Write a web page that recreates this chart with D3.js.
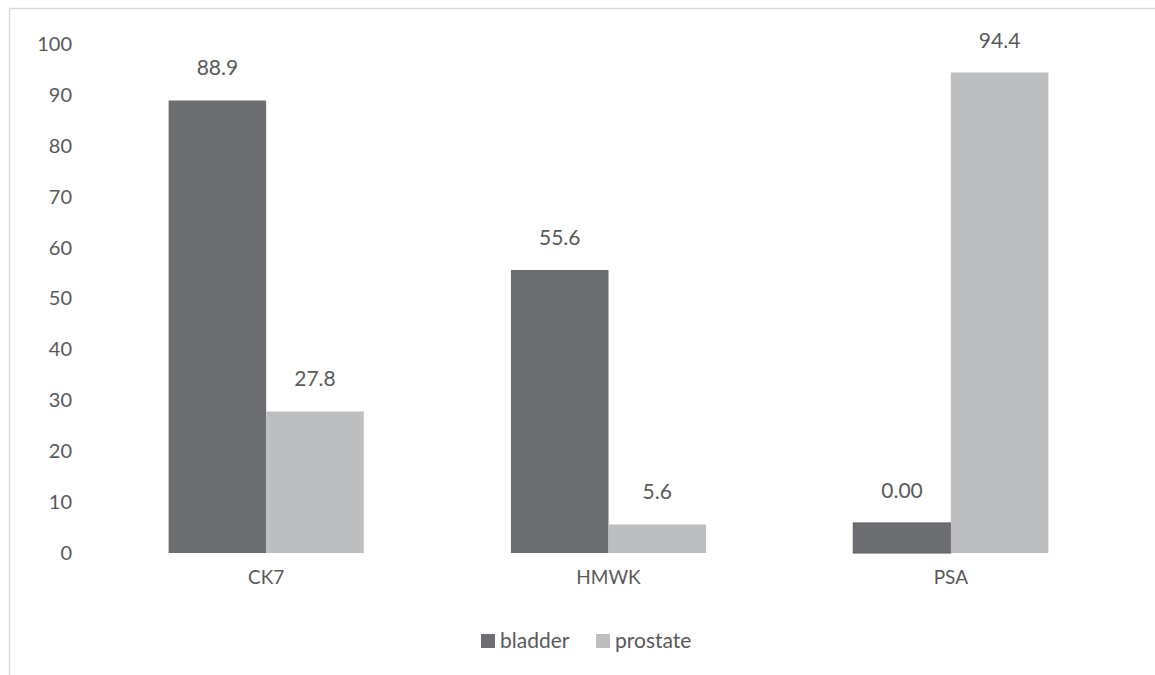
<!DOCTYPE html>
<html>
<head>
<meta charset="utf-8">
<script src="https://cdn.jsdelivr.net/npm/d3@7"></script>
<style>
  body { margin: 0; background: #fff; }
  text { font-family: Lato, "Open Sans", sans-serif; fill: #595959; }
</style>
</head>
<body>
<div class="chart"></div>
<script>
const categories = ['CK7', 'HMWK', 'PSA'];
const seriesNames = ['bladder', 'prostate'];
const bladder = [88.9, 55.6, 5.9];
const prostate = [27.8, 5.6, 94.4];
const bladderLabels = ['88.9', '55.6', '0.00'];
const prostateLabels = ['27.8', '5.6', '94.4'];
const yTicks = [0, 10, 20, 30, 40, 50, 60, 70, 80, 90, 100];

const colors = { bladder: '#6d6e71', prostate: '#bcbec0' };

const fullWidth = 1155;
const fullHeight = 675;
const margin = { top: 44, right: 33, bottom: 122, left: 95 };
const width = fullWidth - margin.left - margin.right;
const height = fullHeight - margin.top - margin.bottom;

const svg = d3.select('.chart')
    .append('svg')
        .attr('width', fullWidth)
        .attr('height', fullHeight);

// outer frame
svg.append('rect')
    .attr('x', 9.5)
    .attr('y', 8.5)
    .attr('width', 1160)
    .attr('height', 700)
    .attr('fill', 'none')
    .attr('stroke', '#d9d9d9')
    .attr('stroke-width', 1.5);

const chart = svg.append('g')
    .attr('transform', `translate(${margin.left}, ${margin.top})`);

const yScale = d3.scaleLinear()
    .domain([0, 100])
    .range([height, 0]);

const xScale = d3.scaleBand()
    .domain(categories)
    .range([0, width])
    .paddingInner(0)
    .paddingOuter(0);

const xSub = d3.scaleBand()
    .domain(seriesNames)
    .range([0, xScale.bandwidth() * 0.57])
    .padding(0);

const yAxis = d3.axisLeft(yScale)
    .tickValues(yTicks)
    .tickSize(0)
    .tickPadding(23);

chart.append('g')
    .call(yAxis)
    .call(g => g.select('.domain').remove())
    .selectAll('text')
        .style('font-size', '20px')
        .attr('fill', '#595959');

const xAxis = d3.axisBottom(xScale)
    .tickSize(0)
    .tickPadding(18);

chart.append('g')
    .attr('transform', `translate(0, ${height})`)
    .call(xAxis)
    .call(g => g.select('.domain').remove())
    .selectAll('text')
        .style('font-size', '19px')
        .attr('fill', '#595959');

const groupOffset = xScale.bandwidth() * (1 - 0.57) / 2;

const rows = categories.map((c, i) => ({
    category: c,
    values: [
        { series: 'bladder', value: bladder[i], label: bladderLabels[i] },
        { series: 'prostate', value: prostate[i], label: prostateLabels[i] }
    ]
}));

const groups = chart.selectAll('.group')
    .data(rows)
    .enter()
    .append('g')
        .attr('class', 'group')
        .attr('transform', d => `translate(${xScale(d.category) + groupOffset}, 0)`);

groups.selectAll('rect')
    .data(d => d.values)
    .enter()
    .append('rect')
        .attr('x', d => xSub(d.series))
        .attr('y', d => yScale(d.value))
        .attr('width', xSub.bandwidth())
        .attr('height', d => height - yScale(d.value))
        .attr('fill', d => colors[d.series])
        .attr('stroke', d => d.label === '0.00' ? '#5a5a5c' : 'none')
        .attr('stroke-width', 1);

groups.selectAll('.label')
    .data(d => d.values)
    .enter()
    .append('text')
        .attr('class', 'label')
        .attr('x', d => xSub(d.series) + xSub.bandwidth() / 2)
        .attr('y', d => yScale(d.value) - 25)
        .attr('text-anchor', 'middle')
        .style('font-size', '21px')
        .text(d => d.label);

// legend
const legend = svg.append('g')
    .attr('transform', 'translate(481, 641)');

const legendX = [0, 115];
seriesNames.forEach((s, i) => {
    const item = legend.append('g')
        .attr('transform', `translate(${legendX[i]}, 0)`);
    item.append('rect')
        .attr('x', 0)
        .attr('y', -7)
        .attr('width', 14)
        .attr('height', 14)
        .attr('fill', colors[s]);
    item.append('text')
        .attr('x', 19)
        .attr('y', 0)
        .attr('dy', '0.35em')
        .style('font-size', '21px')
        .text(s);
});
</script>
</body>
</html>
